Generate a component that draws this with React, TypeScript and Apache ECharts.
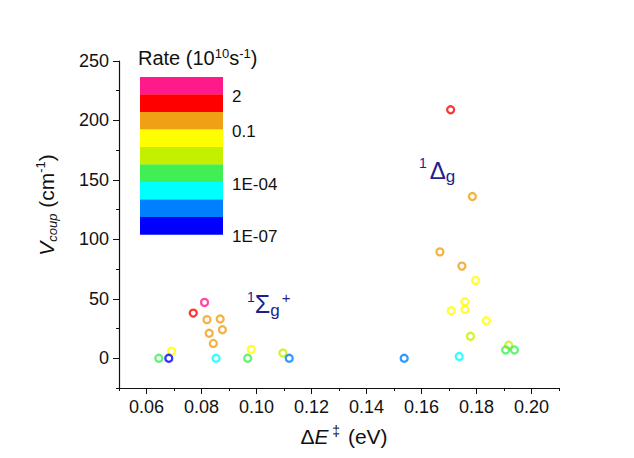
import React, { useEffect, useRef } from "react";
import * as echarts from "echarts";

// Data
const xValues = [
  0.0811, 0.0770, 0.0820, 0.0868, 0.0828, 0.0876, 0.0843, 0.0691, 0.0981, 0.1096, 0.0645, 0.0968, 0.0853, 0.1119, 0.0681,
  0.1706, 0.1785, 0.1667, 0.1747, 0.1797, 0.1758, 0.1758, 0.1708, 0.1836, 0.1778, 0.1917, 0.1906, 0.1938, 0.1737, 0.1537,
];
const yValues = [
  47, 38, 32.5, 33, 21, 24, 12.5, 6, 7.5, 4.5, 0, 0, 0, 0, 0,
  209, 136, 89.5, 77.5, 65.5, 47.5, 41, 40, 31.5, 18.5, 11, 7, 7, 1.5, 0,
];
// 0 = highest rate (top of the colour bar) ... 8 = lowest
const rateClass = [
  0, 1, 2, 2, 2, 2, 2, 3, 3, 4, 5, 5, 6, 7, 8,
  1, 2, 2, 2, 3, 3, 3, 3, 3, 4, 4, 5, 5, 6, 7,
];
const rateColors = ["#FF1A8C", "#FF0000", "#F0A014", "#FFFF00", "#C4F000", "#40EE55", "#00FFFF", "#0080FF", "#0000FF"];
const legendLabels = ["2", "0.1", "1E-04", "1E-07"];
const legendLabelBoundaries = [1, 3, 6, 9];

const xMajorTicks = [0.06, 0.08, 0.1, 0.12, 0.14, 0.16, 0.18, 0.2];
const xMinorTicks = [0.05, 0.07, 0.09, 0.11, 0.13, 0.15, 0.17, 0.19, 0.21];
const yMajorTicks = [0, 50, 100, 150, 200, 250];
const yMinorTicks = [-25, 25, 75, 125, 175, 225];

const FONT = "'Liberation Sans', Arial, sans-serif";
const NAVY = "#1E1E8C";
const INK = "#111";

export default function App() {
  const ref = useRef<HTMLDivElement>(null);

  useEffect(() => {
    document.body.style.margin = "0";
    if (!ref.current) return;
    const chart = echarts.init(ref.current, undefined, { renderer: "svg" });

    const order = xValues.map((_, i) => i).sort((a, b) => rateClass[a] - rateClass[b]);
    const data = order.map((i) => ({
      value: [xValues[i], yValues[i]],
      itemStyle: {
        color: "rgba(255,255,255,0)",
        borderColor: rateColors[rateClass[i]],
        borderWidth: 2.3,
      },
    }));

    const barX = 140;
    const barTop = 77;
    const bandH = 17.5;
    const barW = 83;

    const graphics: any[] = [];
    rateColors.forEach((c, k) => {
      graphics.push({
        type: "rect",
        shape: { x: barX, y: barTop + k * bandH, width: barW, height: bandH + 0.3 },
        style: { fill: c },
        silent: true,
      });
    });
    legendLabels.forEach((t, k) => {
      graphics.push({
        type: "text",
        x: 232,
        y: barTop + legendLabelBoundaries[k] * bandH + 2,
        style: { text: t, fontSize: 17, fontFamily: FONT, fill: INK, verticalAlign: "middle", align: "left" },
        silent: true,
      });
    });
    // colour bar title
    graphics.push({
      type: "text",
      x: 138,
      y: 58,
      style: {
        text: "{n|Rate (10}{s|10}{n|s}{s|-1}{n|)}",
        fontSize: 20,
        fontFamily: FONT,
        fill: INK,
        verticalAlign: "middle",
        align: "left",
        rich: {
          n: { fontSize: 20, fontFamily: FONT, fill: INK, lineHeight: 23 },
          s: { fontSize: 13, fontFamily: FONT, verticalAlign: "top", lineHeight: 13, fill: INK },
        },
      },
      silent: true,
    });
    // x title
    graphics.push({
      type: "text",
      x: 344,
      y: 436,
      style: {
        text: "{n|Δ}{i|E}{s| ‡}{n| (eV)}",
        fontSize: 21,
        fontFamily: FONT,
        fill: INK,
        verticalAlign: "middle",
        align: "center",
        rich: {
          n: { fontSize: 21, fontFamily: FONT, fill: INK, lineHeight: 25 },
          i: { fontSize: 21, fontStyle: "italic", fontFamily: FONT, fill: INK, lineHeight: 25 },
          s: { fontSize: 14, fontFamily: FONT, verticalAlign: "top", lineHeight: 14, fill: INK, padding: [0, 2, 0, 0] },
        },
      },
      silent: true,
    });
    // y title
    graphics.push({
      type: "text",
      x: 46,
      y: 205,
      rotation: Math.PI / 2,
      style: {
        text: "{i|V}{sub|coup}{n| (cm}{s|-1}{n|)}",
        fontSize: 21,
        fontFamily: FONT,
        fill: INK,
        verticalAlign: "middle",
        align: "center",
        rich: {
          n: { fontSize: 21, fontFamily: FONT, fill: INK, lineHeight: 25 },
          i: { fontSize: 21, fontStyle: "italic", fontFamily: FONT, fill: INK, lineHeight: 25 },
          sub: { fontSize: 13, fontStyle: "italic", fontFamily: FONT, verticalAlign: "bottom", lineHeight: 13, fill: INK },
          s: { fontSize: 13, fontFamily: FONT, verticalAlign: "top", lineHeight: 13, fill: INK },
        },
      },
      silent: true,
    });
    // state labels
    graphics.push({
      type: "text",
      x: 247,
      y: 304,
      style: {
        text: "{s|1}{b|Σ}{sub|g}{p|+}",
        fontSize: 20,
        fontFamily: FONT,
        fill: NAVY,
        verticalAlign: "middle",
        align: "left",
        rich: {
          s: { fontSize: 14, fontFamily: FONT, verticalAlign: "top", lineHeight: 14, fill: NAVY },
          b: { fontSize: 25, fontFamily: FONT, fill: NAVY, lineHeight: 29 },
          sub: { fontSize: 17, fontFamily: FONT, verticalAlign: "bottom", lineHeight: 17, fill: NAVY },
          p: { fontSize: 15, fontFamily: FONT, verticalAlign: "top", lineHeight: 15, fill: NAVY, padding: [0, 0, 0, 2] },
        },
      },
      silent: true,
    });
    graphics.push({
      type: "text",
      x: 419,
      y: 170,
      style: {
        text: "{s|1}{b|Δ}{sub|g}",
        fontSize: 20,
        fontFamily: FONT,
        fill: NAVY,
        verticalAlign: "middle",
        align: "left",
        rich: {
          s: { fontSize: 14, fontFamily: FONT, verticalAlign: "top", lineHeight: 14, fill: NAVY },
          b: { fontSize: 24, fontFamily: FONT, fill: NAVY, lineHeight: 29, padding: [0, 0, 0, 3] },
          sub: { fontSize: 17, fontFamily: FONT, verticalAlign: "bottom", lineHeight: 17, fill: NAVY },
        },
      },
      silent: true,
    });

    const axisLine = { show: true, onZero: false, lineStyle: { color: INK, width: 1.2 } };

    chart.setOption({
      animation: false,
      backgroundColor: "#fff",
      grid: { left: 119, top: 61, right: 75, bottom: 70, containLabel: false },
      xAxis: [
        {
          type: "value",
          min: 0.05,
          max: 0.21,
          position: "bottom",
          axisLine,
          splitLine: { show: false },
          axisTick: { show: true, inside: false, length: 6, customValues: xMajorTicks, lineStyle: { color: INK } },
          axisLabel: {
            show: true,
            customValues: xMajorTicks,
            formatter: (v: number) => v.toFixed(2),
            fontSize: 18,
            fontFamily: FONT,
            color: INK,
            margin: 10,
          },
        },
        {
          type: "value",
          min: 0.05,
          max: 0.21,
          position: "bottom",
          axisLine: { show: false, onZero: false },
          splitLine: { show: false },
          axisTick: { show: true, inside: false, length: 3, customValues: xMinorTicks, lineStyle: { color: INK } },
          axisLabel: { show: false },
        },
      ],
      yAxis: [
        {
          type: "value",
          min: -25,
          max: 250,
          position: "left",
          axisLine,
          splitLine: { show: false },
          axisTick: { show: true, inside: false, length: 6, customValues: yMajorTicks, lineStyle: { color: INK } },
          axisLabel: {
            show: true,
            customValues: yMajorTicks,
            fontSize: 18,
            fontFamily: FONT,
            color: INK,
            margin: 10,
          },
        },
        {
          type: "value",
          min: -25,
          max: 250,
          position: "left",
          axisLine: { show: false, onZero: false },
          splitLine: { show: false },
          axisTick: { show: true, inside: false, length: 3, customValues: yMinorTicks, lineStyle: { color: INK } },
          axisLabel: { show: false },
        },
      ],
      series: [
        {
          type: "scatter",
          xAxisIndex: 0,
          yAxisIndex: 0,
          symbol: "circle",
          symbolSize: 7,
          data,
        },
      ],
      graphic: graphics,
    });

    return () => chart.dispose();
  }, []);

  return <div ref={ref} style={{ position: "fixed", left: 0, top: 0, width: 634, height: 458 }} />;
}
